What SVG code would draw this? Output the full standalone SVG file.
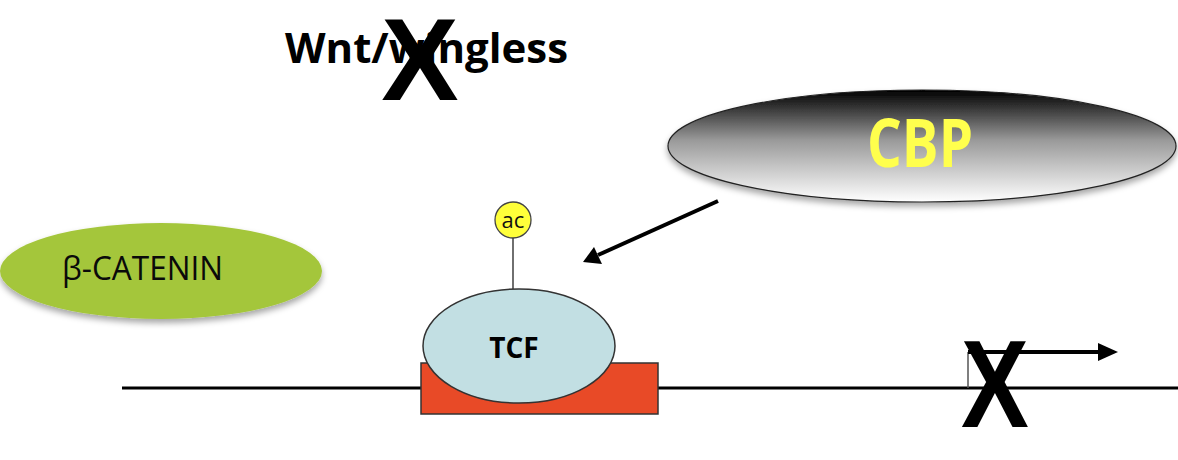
<svg xmlns="http://www.w3.org/2000/svg" width="1178" height="460" viewBox="0 0 1178 460">
<defs>
<linearGradient id="cbpGrad" x1="0" y1="0" x2="0" y2="1">
<stop offset="0" stop-color="#000000"/>
<stop offset="0.45" stop-color="#9a9a9a"/>
<stop offset="1" stop-color="#ffffff"/>
</linearGradient>
<filter id="shadow" x="-10%" y="-20%" width="120%" height="150%">
<feDropShadow dx="0" dy="4" stdDeviation="3" flood-color="#000" flood-opacity="0.35"/>
</filter>
</defs>
<style>
.lbl{font-family:"Open Sans","Liberation Sans",sans-serif;font-weight:bold;fill:#000}
.cross{font-family:"Liberation Sans",sans-serif;font-weight:bold;fill:#000}
.outline{stroke:#333;stroke-width:1.5}
</style>
<rect width="1178" height="460" fill="#fff"/>

<g id="wnt">
<text class="lbl" x="285" y="63" font-size="42" textLength="283" lengthAdjust="spacingAndGlyphs">Wnt/wingless</text>
<text class="cross" x="420" y="100" font-size="116" text-anchor="middle">X</text>
</g>

<g id="cbp">
<ellipse cx="922" cy="146" rx="254" ry="56" fill="url(#cbpGrad)" stroke="#222" stroke-width="1.2" filter="url(#shadow)"/>
<text x="920" y="167" font-size="66" text-anchor="middle" font-family="Open Sans, Liberation Sans, sans-serif" font-weight="bold" fill="#FFFF4D" textLength="106" lengthAdjust="spacingAndGlyphs">CBP</text>
</g>

<g id="betacatenin">
<ellipse cx="161" cy="271" rx="161" ry="48" fill="#A4C63B" filter="url(#shadow)"/>
<text x="62" y="280" font-size="32" font-family="Open Sans, Liberation Sans, sans-serif" fill="#0a0a0a" textLength="161" lengthAdjust="spacingAndGlyphs">β-CATENIN</text>
</g>

<g id="dna">
<line x1="122" y1="388" x2="1178" y2="388" stroke="#000" stroke-width="3"/>
</g>

<g id="site">
<rect x="421" y="363" width="237" height="51" fill="#E84A27" class="outline"/>
</g>

<g id="tcf">
<line x1="513" y1="238" x2="513" y2="289" stroke="#222" stroke-width="1.3"/>
<ellipse cx="519" cy="346" rx="96" ry="57" fill="#C2DFE3" class="outline"/>
<text class="lbl" x="514" y="358" font-size="28" text-anchor="middle">TCF</text>
</g>

<g id="ac">
<circle cx="513" cy="220" r="18" fill="#FFFF3A" stroke="#444" stroke-width="1.3"/>
<text x="513" y="228" font-size="22" text-anchor="middle" font-family="Open Sans, Liberation Sans, sans-serif" fill="#111">ac</text>
</g>

<g id="tss">
<line x1="968" y1="352" x2="968" y2="388" stroke="#555" stroke-width="1.5"/>
<line x1="968" y1="352" x2="1100" y2="352" stroke="#000" stroke-width="4"/>
<path d="M1098,343 L1118,352 L1098,361 Z" fill="#000"/>
<text class="cross" transform="translate(995,427) scale(0.82,1)" x="0" y="0" font-size="124" text-anchor="middle">X</text>
</g>

<g id="connectors">
<line x1="718" y1="201" x2="598" y2="255" stroke="#000" stroke-width="4"/>
<path d="M583,262 L594,247 L602,264 Z" fill="#000"/>
</g>
</svg>
